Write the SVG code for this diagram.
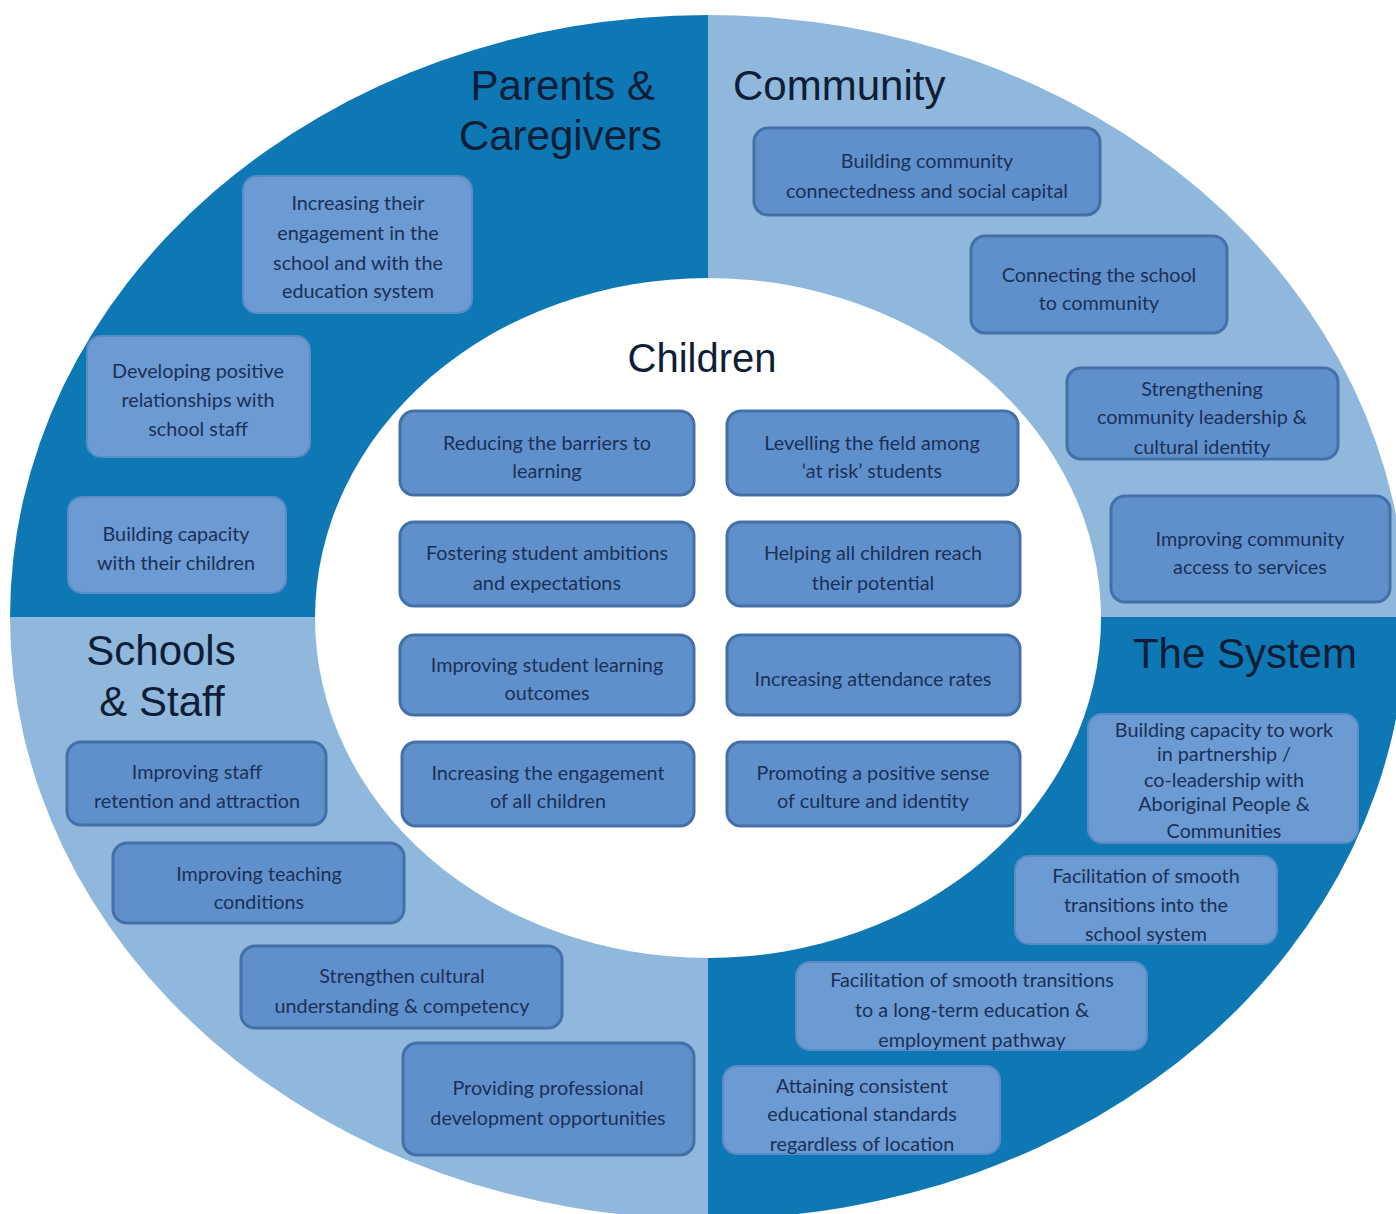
<svg xmlns="http://www.w3.org/2000/svg" width="1396" height="1214" viewBox="0 0 1396 1214">
<style>
.dark{fill:#0e78b5}
.light{fill:#8fb8dc}
.box{fill:#5f90cc;stroke:#4470a8;stroke-width:3}
.boxd{fill:#6b9bd2;stroke:#5a8bc6;stroke-width:2}
.t{font-family:Lato,"Liberation Sans",sans-serif;font-size:19.8px;fill:#1a3058;text-anchor:middle}
.h{font-family:"Liberation Sans",Arial,sans-serif;font-size:42px;fill:#0f1d36}
</style>
<rect width="1396" height="1214" fill="#ffffff"/>
<g id="quadrants">
<path class="dark" d="M708 617 L10 617 A698 602 0 0 1 708 15 Z"/>
<path class="light" d="M708 617 L708 15 A698 602 0 0 1 1406 617 Z"/>
<path class="light" d="M708 617 L708 1219 A698 602 0 0 1 10 617 Z"/>
<path class="dark" d="M708 617 L1406 617 A698 602 0 0 1 708 1219 Z"/>
<ellipse cx="708" cy="618" rx="393" ry="340" fill="#ffffff"/>
</g>
<g id="titles">
<text class="h" x="655" y="100" text-anchor="end">Parents &amp;</text>
<text class="h" x="662" y="150" text-anchor="end">Caregivers</text>
<text class="h" x="733" y="100">Community</text>
<text class="h" x="161" y="665" text-anchor="middle">Schools</text>
<text class="h" x="162" y="716" text-anchor="middle">&amp; Staff</text>
<text class="h" x="1245" y="668" text-anchor="middle">The System</text>
<text class="h" x="702" y="372" text-anchor="middle" style="font-size:40px">Children</text>
</g>
<g id="parents-1"><rect class="boxd" x="243" y="176" width="229" height="137" rx="14"/><text class="t"><tspan x="358" y="210">Increasing their</tspan><tspan x="358" y="240">engagement in the</tspan><tspan x="358" y="270">school and with the</tspan><tspan x="358" y="298">education system</tspan></text></g>
<g id="parents-2"><rect class="boxd" x="87" y="336" width="223" height="121" rx="14"/><text class="t"><tspan x="198" y="378">Developing positive</tspan><tspan x="198" y="407">relationships with</tspan><tspan x="198" y="436">school staff</tspan></text></g>
<g id="parents-3"><rect class="boxd" x="68" y="497" width="218" height="96" rx="14"/><text class="t"><tspan x="176" y="541">Building capacity</tspan><tspan x="176" y="570">with their children</tspan></text></g>
<g id="community-1"><rect class="box" x="754" y="128" width="346" height="87" rx="14"/><text class="t"><tspan x="927" y="168">Building community</tspan><tspan x="927" y="198">connectedness and social capital</tspan></text></g>
<g id="community-2"><rect class="box" x="971" y="236" width="256" height="97" rx="14"/><text class="t"><tspan x="1099" y="282">Connecting the school</tspan><tspan x="1099" y="310">to community</tspan></text></g>
<g id="community-3"><rect class="box" x="1067" y="368" width="271" height="91" rx="14"/><text class="t"><tspan x="1202" y="396">Strengthening</tspan><tspan x="1202" y="424">community leadership &amp;</tspan><tspan x="1202" y="454">cultural identity</tspan></text></g>
<g id="community-4"><rect class="box" x="1111" y="496" width="279" height="106" rx="14"/><text class="t"><tspan x="1250" y="546">Improving community</tspan><tspan x="1250" y="574">access to services</tspan></text></g>
<g id="children-1"><rect class="box" x="400" y="411" width="294" height="84" rx="14"/><text class="t"><tspan x="547" y="450">Reducing the barriers to</tspan><tspan x="547" y="478">learning</tspan></text></g>
<g id="children-2"><rect class="box" x="727" y="411" width="291" height="84" rx="14"/><text class="t"><tspan x="872" y="450">Levelling the field among</tspan><tspan x="872" y="478">‘at risk’ students</tspan></text></g>
<g id="children-3"><rect class="box" x="400" y="522" width="294" height="84" rx="14"/><text class="t"><tspan x="547" y="560">Fostering student ambitions</tspan><tspan x="547" y="590">and expectations</tspan></text></g>
<g id="children-4"><rect class="box" x="727" y="522" width="293" height="84" rx="14"/><text class="t"><tspan x="873" y="560">Helping all children reach</tspan><tspan x="873" y="590">their potential</tspan></text></g>
<g id="children-5"><rect class="box" x="400" y="635" width="294" height="80" rx="14"/><text class="t"><tspan x="547" y="672">Improving student learning</tspan><tspan x="547" y="700">outcomes</tspan></text></g>
<g id="children-6"><rect class="box" x="727" y="635" width="293" height="80" rx="14"/><text class="t"><tspan x="873" y="686">Increasing attendance rates</tspan></text></g>
<g id="children-7"><rect class="box" x="402" y="742" width="292" height="84" rx="14"/><text class="t"><tspan x="548" y="780">Increasing the engagement</tspan><tspan x="548" y="808">of all children</tspan></text></g>
<g id="children-8"><rect class="box" x="727" y="742" width="293" height="84" rx="14"/><text class="t"><tspan x="873" y="780">Promoting a positive sense</tspan><tspan x="873" y="808">of culture and identity</tspan></text></g>
<g id="schools-1"><rect class="box" x="67" y="742" width="259" height="83" rx="14"/><text class="t"><tspan x="197" y="779">Improving staff</tspan><tspan x="197" y="808">retention and attraction</tspan></text></g>
<g id="schools-2"><rect class="box" x="113" y="843" width="291" height="80" rx="14"/><text class="t"><tspan x="259" y="881">Improving teaching</tspan><tspan x="259" y="909">conditions</tspan></text></g>
<g id="schools-3"><rect class="box" x="241" y="946" width="321" height="82" rx="14"/><text class="t"><tspan x="402" y="983">Strengthen cultural</tspan><tspan x="402" y="1013">understanding &amp; competency</tspan></text></g>
<g id="schools-4"><rect class="box" x="403" y="1043" width="291" height="112" rx="14"/><text class="t"><tspan x="548" y="1095">Providing professional</tspan><tspan x="548" y="1125">development opportunities</tspan></text></g>
<g id="system-1"><rect class="boxd" x="1088" y="714" width="270" height="129" rx="14"/><text class="t"><tspan x="1224" y="737">Building capacity to work</tspan><tspan x="1224" y="761">in partnership /</tspan><tspan x="1224" y="787">co-leadership  with</tspan><tspan x="1224" y="811">Aboriginal People &amp;</tspan><tspan x="1224" y="838">Communities</tspan></text></g>
<g id="system-2"><rect class="boxd" x="1015" y="856" width="262" height="88" rx="14"/><text class="t"><tspan x="1146" y="883">Facilitation of smooth</tspan><tspan x="1146" y="912">transitions into the</tspan><tspan x="1146" y="941">school system</tspan></text></g>
<g id="system-3"><rect class="boxd" x="796" y="962" width="351" height="88" rx="14"/><text class="t"><tspan x="972" y="987">Facilitation of smooth transitions</tspan><tspan x="972" y="1017">to a long-term education &amp;</tspan><tspan x="972" y="1047">employment pathway</tspan></text></g>
<g id="system-4"><rect class="boxd" x="723" y="1066" width="277" height="88" rx="14"/><text class="t"><tspan x="862" y="1093">Attaining consistent</tspan><tspan x="862" y="1121">educational standards</tspan><tspan x="862" y="1151">regardless of location</tspan></text></g>
</svg>
